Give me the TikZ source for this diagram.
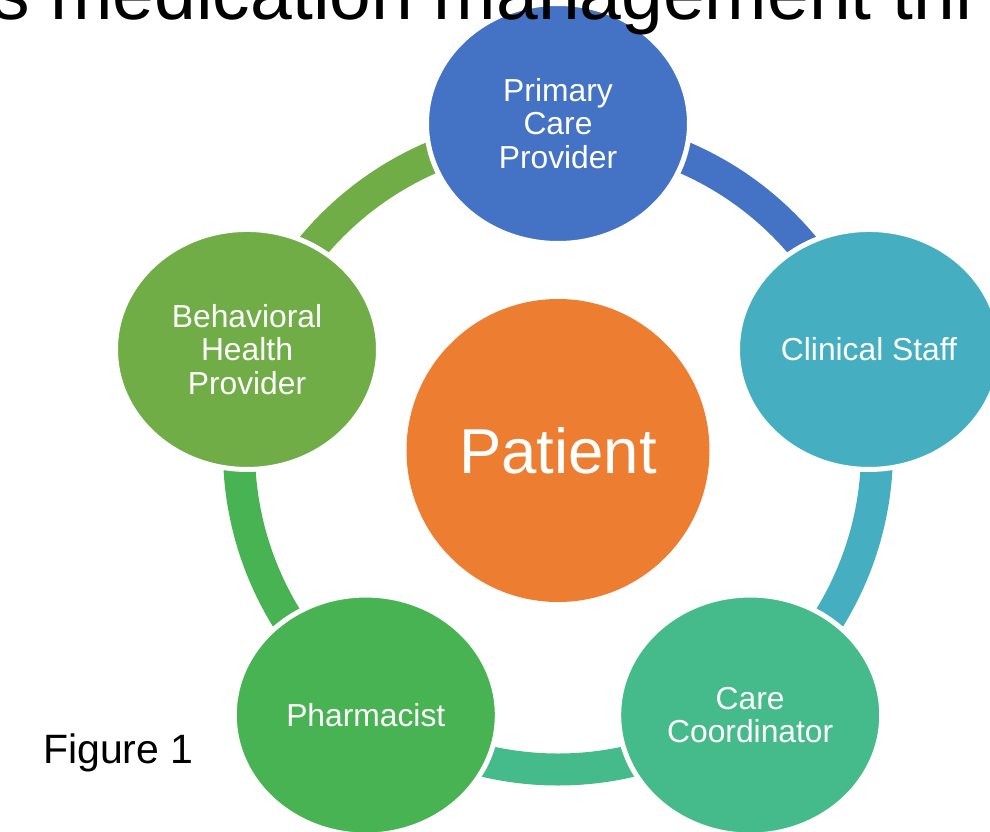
\documentclass[tikz,border=0pt]{standalone}
\usepackage{fontspec}
\setmainfont{Liberation Sans}
\usetikzlibrary{shapes.geometric,backgrounds}

\definecolor{pcpblue}{HTML}{4472C4}
\definecolor{staffteal}{HTML}{45AFC1}
\definecolor{coordgreen}{HTML}{45BB8C}
\definecolor{pharmgreen}{HTML}{47B352}
\definecolor{bhgreen}{HTML}{70AD47}
\definecolor{patorange}{HTML}{ED7D31}

\begin{document}
\begin{tikzpicture}[x=1pt,y=1pt,
    member/.style={ellipse, fill=#1, draw=white, line width=5pt,
      minimum width=263pt, minimum height=240pt, inner sep=0pt,
      text=white, align=center, font=\fontsize{31.8}{33.5}\selectfont},
    band/.style={draw=#1, line width=32pt}]
  \useasboundingbox (-558,-380.5) rectangle (432,450.5);

  % patient in the middle
  \node[circle, fill=patorange, minimum size=303pt, inner sep=0pt,
    text=white, font=\fontsize{63.5}{70}\selectfont] (patient) at (0,0) {Patient};

  % care team round the ring
  \node[member=pcpblue] (pcp) at (90:327) {Primary\\Care\\Provider};
  \node[member=staffteal] (staff) at (18:327) {Clinical Staff};
  \node[member=coordgreen] (coord) at (-54:327) {Care\\Coordinator};
  \node[member=pharmgreen] (pharm) at (-126:327) {Pharmacist};
  \node[member=bhgreen] (bhp) at (162:327) {Behavioral\\Health\\Provider};

  % ring segments, clockwise
  \begin{scope}[on background layer]
    \draw[band=pcpblue] (pcp.center) ++(270:8) arc[start angle=90, end angle=18, radius=319];
    \draw[band=staffteal] (staff.center) ++(198:8) arc[start angle=18, end angle=-54, radius=319];
    \draw[band=coordgreen] (coord.center) ++(126:8) arc[start angle=-54, end angle=-126, radius=319];
    \draw[band=pharmgreen] (pharm.center) ++(54:8) arc[start angle=-126, end angle=-198, radius=319];
    \draw[band=bhgreen] (bhp.center) ++(342:8) arc[start angle=162, end angle=90, radius=319];
  \end{scope}

  % heading line running off the top
  \node[anchor=base west, font=\fontsize{75}{80}\selectfont, inner sep=0pt]
    (head) at (-566,430.5) {s medication management thr};

  \node[anchor=base west, font=\fontsize{41}{44}\selectfont, inner sep=0pt]
    (fig) at (-515,-312.5) {Figure 1};
\end{tikzpicture}
\end{document}
